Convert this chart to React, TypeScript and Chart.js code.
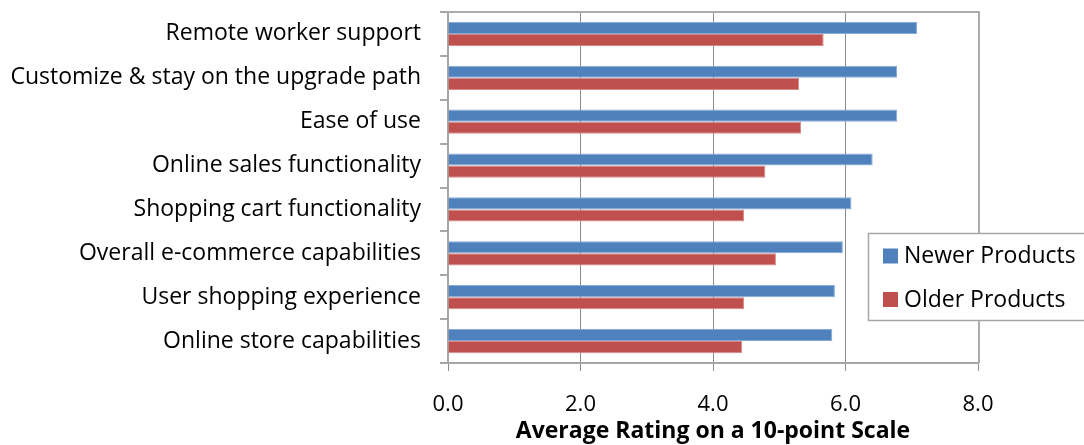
import React, { useEffect, useRef } from 'react';
import { Chart, registerables } from 'chart.js';

Chart.register(...registerables);

const categories = [
  'Remote worker support',
  'Customize & stay on the upgrade path',
  'Ease of use',
  'Online sales functionality',
  'Shopping cart functionality',
  'Overall e-commerce capabilities',
  'User shopping experience',
  'Online store capabilities',
];
const newerProducts = [7.08, 6.78, 6.78, 6.41, 6.09, 5.96, 5.84, 5.8];
const olderProducts = [5.67, 5.3, 5.33, 4.79, 4.47, 4.95, 4.47, 4.44];
const seriesNames = ['Newer Products', 'Older Products'];
const seriesColors = ['#4F81BD', '#C0504D'];
const seriesEdges = ['#87AAD6', '#D58987'];
const xMin = 0;
const xMax = 8;
const xStep = 2;
const axisTitle = 'Average Rating on a 10-point Scale';

const FONT = '"Open Sans"';

const frameAndLegend = {
  id: 'frameAndLegend',
  afterDraw(chart: any) {
    const { ctx, chartArea } = chart;
    ctx.save();
    // top and right frame line
    ctx.strokeStyle = '#ABABAB';
    ctx.lineWidth = 2;
    ctx.beginPath();
    ctx.moveTo(chartArea.left, chartArea.top);
    ctx.lineTo(chartArea.right + 1, chartArea.top);
    ctx.lineTo(chartArea.right + 1, chartArea.bottom);
    ctx.stroke();

    // legend box
    const bx = 868.5;
    const by = 233.5;
    const bw = 230;
    const bh = 87;
    ctx.fillStyle = '#FFFFFF';
    ctx.fillRect(bx, by, bw, bh);
    ctx.strokeStyle = '#A6A6A6';
    ctx.lineWidth = 1.5;
    ctx.strokeRect(bx, by, bw, bh);

    const rows = [255.5, 299];
    ctx.font = `23px ${FONT}`;
    ctx.textBaseline = 'middle';
    ctx.textAlign = 'left';
    seriesNames.forEach((name, i) => {
      ctx.fillStyle = seriesColors[i];
      ctx.fillRect(883, rows[i] - 7, 15, 15);
      ctx.fillStyle = '#000000';
      ctx.fillText(name, 904, rows[i] + 1);
    });
    ctx.restore();
  },
};

export default function App() {
  const canvasRef = useRef<HTMLCanvasElement | null>(null);

  useEffect(() => {
    const canvas = canvasRef.current;
    if (!canvas) return;
    const chart = new Chart(canvas, {
      type: 'bar',
      data: {
        labels: categories,
        datasets: [
          {
            label: seriesNames[0],
            data: newerProducts,
            backgroundColor: seriesColors[0],
            borderColor: seriesEdges[0],
            borderWidth: 1,
            categoryPercentage: 0.55,
            barPercentage: 1,
          },
          {
            label: seriesNames[1],
            data: olderProducts,
            backgroundColor: seriesColors[1],
            borderColor: seriesEdges[1],
            borderWidth: 1,
            categoryPercentage: 0.55,
            barPercentage: 1,
          },
        ],
      },
      options: {
        indexAxis: 'y',
        animation: false,
        responsive: false,
        maintainAspectRatio: false,
        layout: { padding: { left: 0, right: 106, top: 12, bottom: 0 } },
        plugins: {
          legend: { display: false },
          tooltip: { enabled: false },
        },
        scales: {
          x: {
            min: xMin,
            max: xMax,
            ticks: {
              stepSize: xStep,
              color: '#000000',
              font: { family: FONT, size: 22 },
              padding: 21,
              callback: (v: any) => Number(v).toFixed(1),
            },
            grid: {
              color: '#8C8C8C',
              lineWidth: 1,
              tickLength: 8,
              tickColor: '#8C8C8C',
            },
            border: { color: '#A6A6A6', width: 2 },
            title: {
              display: true,
              text: axisTitle,
              color: '#000000',
              font: { family: FONT, size: 23, weight: 'bold' },
              padding: { top: 0, bottom: 0 },
            },
            afterFit(scale: any) {
              scale.height = 82;
              scale.paddingLeft = 0;
              scale.paddingRight = 0;
            },
          },
          y: {
            ticks: {
              color: '#000000',
              font: { family: FONT, size: 23 },
              padding: 19,
            },
            grid: {
              drawOnChartArea: false,
              drawTicks: true,
              tickLength: 8,
              tickColor: '#A6A6A6',
              lineWidth: 2,
            },
            border: { color: '#A6A6A6', width: 2 },
            afterFit(scale: any) {
              scale.width = 448;
              scale.paddingTop = 0;
              scale.paddingBottom = 0;
            },
          },
        },
      },
      plugins: [frameAndLegend],
    });
    return () => chart.destroy();
  }, []);

  return (
    <div style={{ position: 'fixed', left: 0, top: 0, width: 1084, height: 445, background: '#FFFFFF' }}>
      <canvas ref={canvasRef} width={1084} height={445} style={{ width: 1084, height: 445, display: 'block' }} />
    </div>
  );
}
